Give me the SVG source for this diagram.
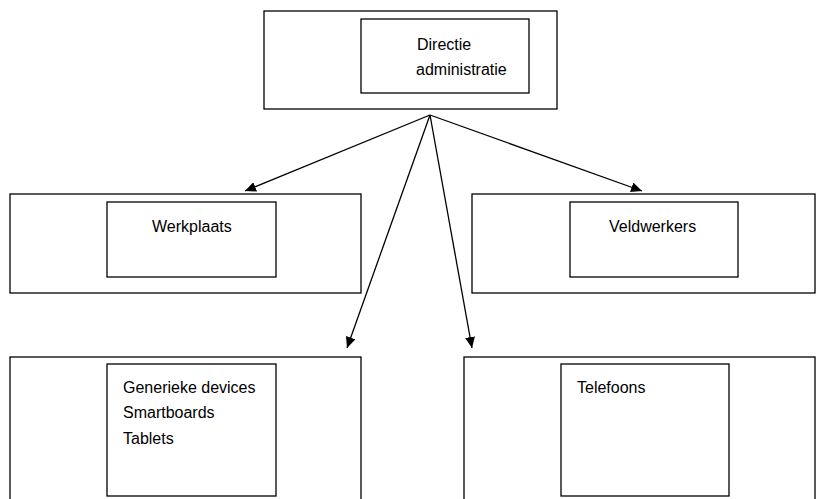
<svg xmlns="http://www.w3.org/2000/svg" width="816" height="499" viewBox="0 0 816 499">
<style>
.box{fill:#fff;stroke:#000;stroke-width:1.3}
.t{font-family:"Liberation Sans",Arial,sans-serif;font-size:16px;fill:#000}
.c{stroke:#000;stroke-width:1.3;fill:none}
</style>
<defs>
<marker id="ah" markerWidth="12" markerHeight="10" refX="11" refY="5" orient="auto" markerUnits="userSpaceOnUse">
<path d="M0,0 L11,5 L0,10 Z" fill="#000"/>
</marker>
</defs>
<rect width="816" height="499" fill="#fff"/>
<g id="directie">
<rect class="box" x="264" y="11" width="293" height="98"/>
<rect class="box" x="361" y="19" width="168" height="74"/>
<text class="t" x="417" y="50">Directie</text>
<text class="t" x="416" y="75">administratie</text>
</g>
<g id="werkplaats">
<rect class="box" x="10" y="194" width="351" height="99"/>
<rect class="box" x="107" y="202" width="169" height="75"/>
<text class="t" x="152" y="232">Werkplaats</text>
</g>
<g id="veldwerkers">
<rect class="box" x="472" y="194" width="343" height="99"/>
<rect class="box" x="570" y="202" width="168" height="75"/>
<text class="t" x="609" y="232">Veldwerkers</text>
</g>
<g id="devices">
<rect class="box" x="10" y="357" width="351" height="150"/>
<rect class="box" x="107" y="364" width="169" height="132"/>
<text class="t" x="123" y="393">Generieke devices</text>
<text class="t" x="123" y="418">Smartboards</text>
<text class="t" x="123" y="444">Tablets</text>
</g>
<g id="telefoons">
<rect class="box" x="464" y="357" width="351" height="150"/>
<rect class="box" x="561" y="364" width="168" height="132"/>
<text class="t" x="577" y="393">Telefoons</text>
</g>
<g id="connectors">
<line class="c" x1="430" y1="115" x2="245" y2="191" marker-end="url(#ah)"/>
<line class="c" x1="430" y1="115" x2="642" y2="191" marker-end="url(#ah)"/>
<line class="c" x1="430" y1="115" x2="347" y2="348" marker-end="url(#ah)"/>
<line class="c" x1="430" y1="115" x2="472" y2="348" marker-end="url(#ah)"/>
</g>
</svg>
